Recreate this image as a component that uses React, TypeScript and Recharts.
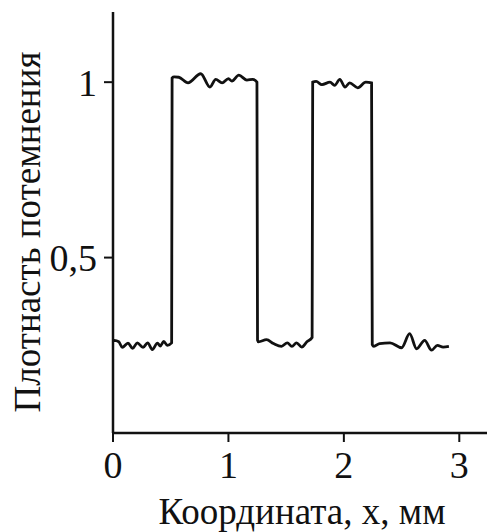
import React from 'react';
import { LineChart, Line, XAxis, YAxis, Label } from 'recharts';

const xs: number[] = [
  0.0, 0.011, 0.05, 0.08, 0.13, 0.17, 0.21, 0.26, 0.30, 0.34, 0.385, 0.41, 0.44, 0.47, 0.508,
  0.512, 0.53, 0.57, 0.65, 0.76, 0.84, 0.89, 0.945, 1.0, 1.03, 1.09, 1.16, 1.21, 1.247,
  1.252, 1.26, 1.33, 1.39, 1.46, 1.51, 1.55, 1.59, 1.635, 1.68, 1.725,
  1.73, 1.76, 1.81, 1.88, 1.92, 1.965, 2.01, 2.05, 2.12, 2.19, 2.24,
  2.246, 2.26, 2.31, 2.40, 2.50, 2.57, 2.63, 2.70, 2.76, 2.81, 2.86, 2.91,
];
const density: number[] = [
  0.262, 0.264, 0.26, 0.244, 0.256, 0.241, 0.257, 0.244, 0.257, 0.238, 0.256, 0.248, 0.261, 0.25, 0.257,
  1.012, 1.015, 1.014, 0.998, 1.024, 0.986, 1.008, 0.998, 1.01, 1.003, 1.02, 1.006, 1.008, 1.0,
  0.265, 0.26, 0.266, 0.255, 0.247, 0.257, 0.247, 0.257, 0.245, 0.26, 0.272,
  1.0, 1.002, 0.993, 1.0, 0.991, 1.008, 0.986, 0.998, 0.984, 1.0, 0.998,
  0.252, 0.247, 0.255, 0.257, 0.243, 0.283, 0.24, 0.264, 0.236, 0.25, 0.245, 0.247,
];
const xTicks: number[] = [0, 1, 2, 3];
const yTicks: number[] = [0.5, 1];

const data = xs.map((x, i) => ({ x, y: density[i] }));

const INK = '#111';
const FONT = '"Liberation Serif", "Times New Roman", serif';

export default function App() {
  return (
    <div style={{ position: 'absolute', left: 0, top: 0, background: '#fff' }}>
      <LineChart width={487} height={532} data={data} margin={{ top: 12, right: 0, bottom: 0, left: 0 }}>
        <XAxis
          dataKey="x"
          type="number"
          domain={[0, 3.24]}
          ticks={xTicks}
          allowDataOverflow
          height={99}
          stroke={INK}
          strokeWidth={2.5}
          tickSize={9}
          tickMargin={9}
          tick={{ fill: INK, fontSize: 38, fontFamily: FONT }}
          tickLine={{ stroke: INK, strokeWidth: 2 }}
        >
          <Label
            content={() => (
              <text x={302} y={524} textAnchor="middle" fill={INK} fontSize={37} fontFamily={FONT}>
                Координата, х, мм
              </text>
            )}
          />
        </XAxis>
        <YAxis
          dataKey="y"
          type="number"
          domain={[0, 1.2]}
          ticks={yTicks}
          width={113}
          stroke={INK}
          strokeWidth={2.5}
          tickSize={9}
          tickMargin={7}
          tickFormatter={(v: number) => String(v).replace('.', ',')}
          tick={{ fill: INK, fontSize: 38, fontFamily: FONT }}
          tickLine={{ stroke: INK, strokeWidth: 2 }}
        >
          <Label
            content={() => (
              <text
                x={27}
                y={232}
                transform="rotate(-90 27 232)"
                textAnchor="middle"
                dominantBaseline="central"
                fill={INK}
                fontSize={37}
                fontFamily={FONT}
              >
                Плотнасть потемнения
              </text>
            )}
          />
        </YAxis>
        <Line
          dataKey="y"
          type="monotone"
          stroke={INK}
          strokeWidth={2.8}
          dot={false}
          isAnimationActive={false}
        />
      </LineChart>
    </div>
  );
}
